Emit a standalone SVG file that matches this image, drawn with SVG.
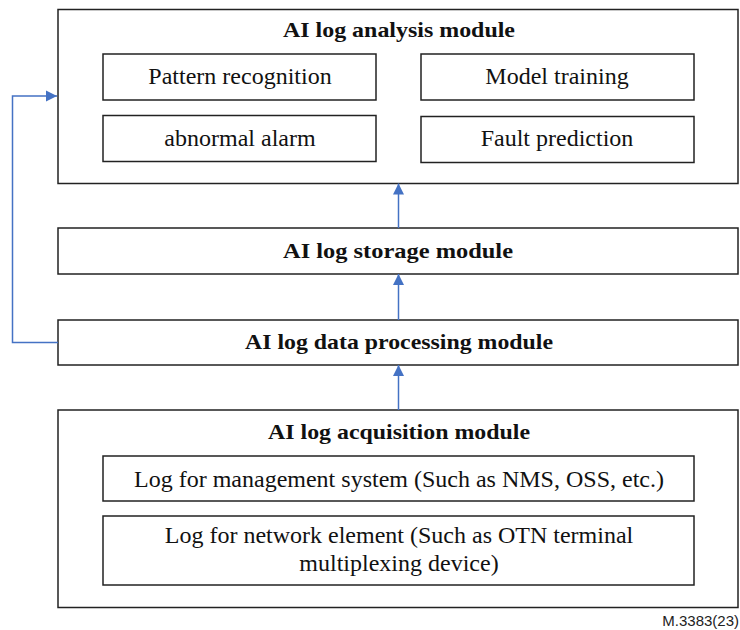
<svg xmlns="http://www.w3.org/2000/svg" width="740" height="630" viewBox="0 0 740 630">
  <style>
    .box { fill: #ffffff; stroke: #222222; stroke-width: 1.5; }
    .t { font-family: "Liberation Serif", "Times New Roman", serif; font-size: 24px; fill: #111111; text-anchor: middle; }
    .h { font-family: "Liberation Serif", "Times New Roman", serif; font-size: 22px; font-weight: bold; fill: #111111; text-anchor: middle; }
    .link { fill: none; stroke: #4472C4; stroke-width: 1.5; marker-end: url(#arrow); }
    .note { font-family: "Liberation Sans", Arial, sans-serif; font-size: 15px; fill: #222222; text-anchor: end; }
  </style>
  <defs>
    <marker id="arrow" markerWidth="11" markerHeight="12" refX="12" refY="6" orient="auto" markerUnits="userSpaceOnUse" viewBox="0 0 12 12">
      <path d="M0,0 L12,6 L0,12 Z" fill="#4472C4"/>
    </marker>
  </defs>
  <rect width="740" height="630" fill="#ffffff"/>

  <!-- Analysis module with four sub-functions -->
  <g id="analysis">
    <rect class="box" x="58" y="9.5" width="680" height="174"/>
    <text class="h" x="399" y="37" textLength="232" lengthAdjust="spacingAndGlyphs">AI log analysis module</text>
    <g id="pattern">
      <rect class="box" x="103" y="54" width="273" height="46"/>
      <text class="t" x="240" y="84">Pattern recognition</text>
    </g>
    <g id="training">
      <rect class="box" x="421" y="54" width="273" height="46"/>
      <text class="t" x="557" y="84">Model training</text>
    </g>
    <g id="alarm">
      <rect class="box" x="103" y="115.5" width="273" height="46"/>
      <text class="t" x="240" y="146">abnormal alarm</text>
    </g>
    <g id="prediction">
      <rect class="box" x="421" y="116.5" width="273" height="46"/>
      <text class="t" x="557" y="146">Fault prediction</text>
    </g>
  </g>

  <!-- Storage module -->
  <g id="storage">
    <rect class="box" x="58" y="228" width="680" height="46"/>
    <text class="h" x="398" y="258" textLength="230" lengthAdjust="spacingAndGlyphs">AI log storage module</text>
  </g>

  <!-- Data processing module -->
  <g id="processing">
    <rect class="box" x="58" y="320" width="680" height="45"/>
    <text class="h" x="399" y="349" textLength="308" lengthAdjust="spacingAndGlyphs">AI log data processing module</text>
  </g>

  <!-- Acquisition module with log sources -->
  <g id="acquisition">
    <rect class="box" x="58" y="410" width="680" height="197.5"/>
    <text class="h" x="399" y="439" textLength="262" lengthAdjust="spacingAndGlyphs">AI log acquisition module</text>
    <g id="mgmt-log">
      <rect class="box" x="103" y="456" width="591" height="45"/>
      <text class="t" x="399" y="487">Log for management system (Such as NMS, OSS, etc.)</text>
    </g>
    <g id="ne-log">
      <rect class="box" x="103" y="516" width="591" height="69"/>
      <text class="t" x="399" y="543">Log for network element (Such as OTN terminal</text>
      <text class="t" x="399" y="571">multiplexing device)</text>
    </g>
  </g>

  <!-- Connectors -->
  <g id="connectors">
    <path class="link" d="M398.5,410 V365"/>
    <path class="link" d="M398.5,320 V274"/>
    <path class="link" d="M398.5,228 V183.5"/>
    <path class="link" d="M58,342.5 H12.5 V96 H57"/>
  </g>

  <text class="note" x="739" y="626">M.3383(23)</text>
</svg>
